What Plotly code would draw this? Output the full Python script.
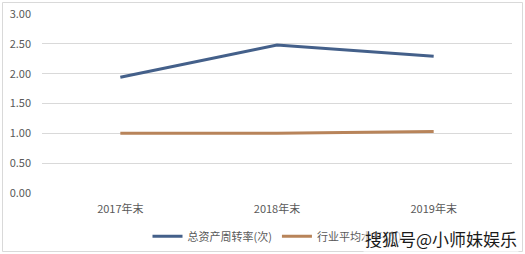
import plotly.graph_objects as go

categories = ["2017年末", "2018年末", "2019年末"]
turnover = [1.94, 2.48, 2.29]
industry_avg = [1.00, 1.00, 1.03]
series_names = ["总资产周转率(次)", "行业平均水平(次)"]
y_ticks = [0, 0.5, 1.0, 1.5, 2.0, 2.5, 3.0]

W, H = 525, 254
ml, mr, mt, mb = 42, 13, 14, 61
pw, ph = W - ml - mr, H - mt - mb

def px_x(x):
    return (x - ml) / pw

def px_y(y):
    return (H - mb - y) / ph

font = "Noto Sans CJK SC, Microsoft YaHei, sans-serif"
fig = go.Figure()
fig.add_trace(go.Scatter(x=categories, y=turnover, mode="lines", name=series_names[0],
                         line=dict(color="#44608A", width=3)))
fig.add_trace(go.Scatter(x=categories, y=industry_avg, mode="lines", name=series_names[1],
                         line=dict(color="#B8845A", width=3)))

fig.update_layout(
    width=W, height=H,
    margin=dict(l=ml, r=mr, t=mt, b=mb, autoexpand=False),
    paper_bgcolor="white", plot_bgcolor="white",
    font=dict(family=font, size=11, color="#595959"),
    showlegend=True,
    legend=dict(orientation="h", x=0.5, xanchor="center", yref="container", y=0.07,
                yanchor="middle", font=dict(size=11, color="#595959"),
                itemwidth=30, tracegroupgap=0),
    xaxis=dict(type="category", range=[-0.5, 2.5], showgrid=False, showline=False,
               zeroline=False, ticks="", ticklabelstandoff=8, automargin=False,
               tickfont=dict(size=11, color="#595959")),
    yaxis=dict(range=[0, 3.0], tickvals=y_ticks, tickformat=".2f", showgrid=True,
               gridcolor="#D9D9D9", gridwidth=1, zeroline=False, showline=False,
               ticks="", ticklabelstandoff=10, automargin=False,
               tickfont=dict(size=11, color="#595959")),
    shapes=[dict(type="rect", xref="paper", yref="paper",
                 x0=px_x(2.5), x1=px_x(522.5), y0=px_y(251.5), y1=px_y(2.5),
                 line=dict(color="#D9D9D9", width=1), layer="below")],
    annotations=[dict(text="搜狐号@小师妹娱乐", xref="paper", yref="paper",
                      x=px_x(441), y=px_y(238), xanchor="center", yanchor="middle",
                      showarrow=False,
                      font=dict(family=font, size=17, color="#1a1a1a"),
                      bgcolor="rgba(255,255,255,0.6)")],
)

fig.write_html("out.html")
